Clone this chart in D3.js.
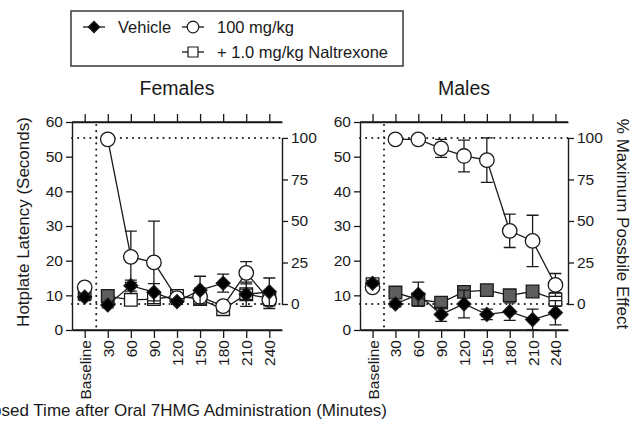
<!DOCTYPE html>
<html>
<head>
<meta charset="utf-8">
<script src="https://cdn.jsdelivr.net/npm/d3@7"></script>
<style>
  body { margin: 0; background: #fff; }
  svg { font-family: "Liberation Sans", Arial, sans-serif; }
</style>
</head>
<body>
<div id="chart"></div>
<script>
const timeLabels = ["Baseline", "30", "60", "90", "120", "150", "180", "210", "240"];
const latencyTicks = [0, 10, 20, 30, 40, 50, 60];
const mpeTicks = [0, 25, 50, 75, 100];
const mpeZero = 7.5;    // latency (s) that reads as 0 % MPE
const mpeFull = 55.4;   // latency (s) that reads as 100 % MPE

// Females
const femVehicle    = [9.5, 7.2, 12.8, 10.9, 8.2, 11.5, 13.5, 10.3, 11.0];
const femVehicleSem = [1.0, 0.8, 1.6, 2.5, 0.8, 4.0, 2.6, 1.5, 4.0];
const fem100        = [12.3, 55.0, 21.1, 19.5, 9.2, 9.6, 6.9, 16.5, 8.7];
const fem100Sem     = [1.0, 0, 7.4, 11.9, 1.0, 2.5, 1.0, 3.2, 2.5];
const femNal        = [10.5, 9.8, 8.7, 8.9, 9.8, 8.9, 6.0, 10.3, 9.2];
const femNalSem     = [1.0, 1.0, 1.0, 1.5, 1.0, 1.5, 1.0, 3.5, 2.0];
const femNalSig     = [false, true, false, false, false, false, false, false, false];

// Males
const maleVehicle    = [13.5, 7.5, 10.3, 4.5, 7.5, 4.5, 5.3, 3.0, 5.0];
const maleVehicleSem = [0.8, 0.8, 3.5, 2.0, 4.0, 1.5, 2.5, 3.0, 3.5];
const male100        = [12.3, 55.0, 55.0, 52.4, 50.2, 49.0, 28.6, 25.7, 13.0];
const male100Sem     = [0.8, 0, 0, 2.6, 4.6, 6.4, 4.8, 7.4, 3.3];
const maleNal        = [13.2, 10.8, 8.8, 7.9, 11.0, 11.5, 10.0, 11.1, 8.8];
const maleNalSem     = [0.8, 1.0, 1.0, 1.0, 1.5, 1.0, 1.0, 1.0, 2.0];
const maleNalSig     = [false, true, true, true, true, true, true, true, false];

const W = 632, H = 427;
const plotTop = 122, plotBottom = 330;

const svg = d3.select('#chart')
  .append('svg')
  .attr('width', W)
  .attr('height', H);

const ink = '#1a1a1a';

const y = d3.scaleLinear().domain([0, 60]).range([plotBottom, plotTop]);
const yMpe = d3.scaleLinear().domain([0, 100]).range([y(mpeZero), y(mpeFull)]);

const diamond = d3.symbol().type(d3.symbolSquare).size(95);
const circle = d3.symbol().type(d3.symbolCircle).size(165);
const square = d3.symbol().type(d3.symbolSquare).size(160);

function drawPanel(left, right, title, series, showLeftTitle, showRightTitle) {
  const x = d3.scalePoint().domain(timeLabels).range([left, right]).padding(0.55);
  const g = svg.append('g');

  // frame + ticks
  g.append('g')
    .attr('transform', `translate(${left},0)`)
    .call(d3.axisLeft(y).tickValues(latencyTicks).tickSize(6).tickSizeOuter(0).tickPadding(3));
  g.append('g')
    .attr('transform', `translate(${right},0)`)
    .call(d3.axisRight(yMpe).tickValues(mpeTicks).tickSize(6).tickSizeOuter(0).tickPadding(3));
  g.append('g')
    .attr('transform', `translate(0,${plotTop})`)
    .call(d3.axisTop(x).tickSize(8).tickSizeOuter(0).tickFormat(''));
  const xb = g.append('g')
    .attr('transform', `translate(0,${plotBottom})`)
    .call(d3.axisBottom(x).tickSize(8).tickSizeOuter(0));
  xb.selectAll('text')
    .attr('transform', 'rotate(-90)')
    .attr('x', -10)
    .attr('y', 0)
    .attr('dy', '0.35em')
    .attr('text-anchor', 'end');

  g.selectAll('.domain').attr('stroke', ink).attr('stroke-width', 1.4);
  g.selectAll('.tick line').attr('stroke', ink).attr('stroke-width', 1.3);
  g.selectAll('.tick text').attr('fill', ink).style('font-size', '15.5px');

  // top and bottom lines reach both side axes
  g.append('line').attr('x1', left).attr('x2', right).attr('y1', plotTop).attr('y2', plotTop)
    .attr('stroke', ink).attr('stroke-width', 1.4);
  g.append('line').attr('x1', left).attr('x2', right).attr('y1', plotBottom).attr('y2', plotBottom)
    .attr('stroke', ink).attr('stroke-width', 1.4);

  // reference dotted lines (0 % and 100 % MPE, dosing time)
  [0, 100].forEach(v => {
    g.append('line')
      .attr('x1', left).attr('x2', right)
      .attr('y1', yMpe(v)).attr('y2', yMpe(v))
      .attr('stroke', ink).attr('stroke-width', 2)
      .attr('stroke-linecap', 'round')
      .attr('stroke-dasharray', '0.1,6');
  });
  const xDose = (x(timeLabels[0]) + x(timeLabels[1])) / 2;
  g.append('line')
    .attr('x1', xDose).attr('x2', xDose)
    .attr('y1', plotTop + 3).attr('y2', plotBottom)
    .attr('stroke', ink).attr('stroke-width', 2)
    .attr('stroke-linecap', 'round')
    .attr('stroke-dasharray', '0.1,6');

  // series
  series.forEach(s => {
    const pts = s.values.map((v, i) => ({ t: timeLabels[i], v, sem: s.sem[i], i }));
    const sg = g.append('g');

    const err = pts.filter(d => d.sem > 0);
    sg.selectAll('.err')
      .data(err)
      .join('path')
      .attr('class', 'err')
      .attr('d', d => {
        const cx = x(d.t), y1 = y(d.v + d.sem), y0 = y(d.v - d.sem);
        return `M${cx},${y0}V${y1}M${cx - 6},${y1}H${cx + 6}M${cx - 6},${y0}H${cx + 6}`;
      })
      .attr('fill', 'none')
      .attr('stroke', ink)
      .attr('stroke-width', 1.3);

    sg.append('path')
      .datum(pts.slice(1))
      .attr('fill', 'none')
      .attr('stroke', ink)
      .attr('stroke-width', 1.3)
      .attr('d', d3.line().x(d => x(d.t)).y(d => y(d.v)));

    sg.selectAll('.mark')
      .data(pts)
      .join('path')
      .attr('class', 'mark')
      .attr('transform', d => `translate(${x(d.t)},${y(d.v)})` + (s.kind === 'diamond' ? ' rotate(45)' : ''))
      .attr('d', s.kind === 'diamond' ? diamond : s.kind === 'circle' ? circle : square)
      .attr('fill', d => s.kind === 'diamond' ? '#000' : (s.sig && s.sig[d.i] ? '#5e5e5e' : '#fff'))
      .attr('stroke', ink)
      .attr('stroke-width', 1.3);
  });

  // titles
  svg.append('text')
    .attr('x', (left + right) / 2)
    .attr('y', 95)
    .attr('text-anchor', 'middle')
    .attr('fill', ink)
    .style('font-size', '19.5px')
    .text(title);

  if (showLeftTitle) {
    svg.append('text')
      .attr('transform', `translate(29,${(plotTop + plotBottom) / 2 - 4}) rotate(-90)`)
      .attr('text-anchor', 'middle')
      .attr('fill', ink)
      .style('font-size', '17px')
      .text('Hotplate Latency (Seconds)');
  }
  if (showRightTitle) {
    svg.append('text')
      .attr('transform', `translate(617,${(plotTop + plotBottom) / 2 - 2}) rotate(90)`)
      .attr('text-anchor', 'middle')
      .attr('fill', ink)
      .style('font-size', '17px')
      .text('% Maximum Possbile Effect');
  }
}

drawPanel(72, 282, 'Females', [
  { kind: 'square', values: femNal, sem: femNalSem, sig: femNalSig },
  { kind: 'circle', values: fem100, sem: fem100Sem },
  { kind: 'diamond', values: femVehicle, sem: femVehicleSem }
], true, false);

drawPanel(360, 568, 'Males', [
  { kind: 'square', values: maleNal, sem: maleNalSem, sig: maleNalSig },
  { kind: 'circle', values: male100, sem: male100Sem },
  { kind: 'diamond', values: maleVehicle, sem: maleVehicleSem }
], false, true);

// x axis title: in the original it starts past the left edge
svg.append('text')
  .attr('x', 387)
  .attr('y', 416)
  .attr('text-anchor', 'end')
  .attr('fill', ink)
  .style('font-size', '17px')
  .text('Elapsed Time after Oral 7HMG Administration (Minutes)');

// legend
const legend = svg.append('g');
legend.append('rect')
  .attr('x', 71).attr('y', 11)
  .attr('width', 332).attr('height', 55)
  .attr('fill', '#fff')
  .attr('stroke', '#444')
  .attr('stroke-width', 1.6);

const legendItems = [
  { label: 'Vehicle', kind: 'diamond', x: 94, y: 27 },
  { label: '100 mg/kg', kind: 'circle', x: 193, y: 27 },
  { label: '+ 1.0 mg/kg Naltrexone', kind: 'square', x: 193, y: 52 }
];
legendItems.forEach(d => {
  legend.append('line')
    .attr('x1', d.x - 11).attr('x2', d.x + 11)
    .attr('y1', d.y).attr('y2', d.y)
    .attr('stroke', ink).attr('stroke-width', 1.3);
  legend.append('path')
    .attr('transform', `translate(${d.x},${d.y})` + (d.kind === 'diamond' ? ' rotate(45)' : ''))
    .attr('d', d3.symbol().type(d.kind === 'circle' ? d3.symbolCircle : d3.symbolSquare)
      .size(d.kind === 'diamond' ? 64 : d.kind === 'circle' ? 105 : 100))
    .attr('fill', d.kind === 'diamond' ? '#000' : '#fff')
    .attr('stroke', ink)
    .attr('stroke-width', 1.2);
  legend.append('text')
    .attr('x', d.x + 24)
    .attr('y', d.y)
    .attr('dy', '0.35em')
    .attr('fill', ink)
    .style('font-size', '16.5px')
    .text(d.label);
});
</script>
</body>
</html>
